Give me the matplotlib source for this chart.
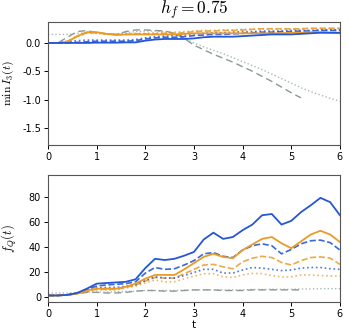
import numpy as np
import matplotlib
matplotlib.use("Agg")
import matplotlib.pyplot as plt

plt.rcParams['mathtext.fontset'] = 'cm'
plt.rcParams['font.size'] = 7
plt.rcParams['axes.unicode_minus'] = False

# time grid
t = np.round(np.arange(0, 6.01, 0.2), 1)
t_short = t[:27]  # gray dashed run stops early

# --- top panel: min I_3(t)
i3_blue_solid = [0, 0, 0, 0, 0, 0.005, 0.005, 0.005, 0.01, 0.01, 0.04, 0.06, 0.07, 0.07, 0.07, 0.08,
                 0.10, 0.11, 0.11, 0.11, 0.12, 0.13, 0.14, 0.15, 0.15, 0.15, 0.16, 0.17, 0.18, 0.18, 0.18]
i3_blue_dashed = [0, 0, 0.005, 0.01, 0.02, 0.03, 0.03, 0.03, 0.03, 0.04, 0.07, 0.09, 0.10, 0.10, 0.11, 0.13,
                  0.14, 0.15, 0.15, 0.16, 0.17, 0.18, 0.19, 0.19, 0.20, 0.20, 0.21, 0.21, 0.22, 0.22, 0.22]
i3_blue_dotted = [0, 0, 0.02, 0.04, 0.05, 0.05, 0.05, 0.05, 0.05, 0.06, 0.09, 0.11, 0.12, 0.13, 0.14, 0.16,
                  0.17, 0.18, 0.18, 0.19, 0.20, 0.20, 0.21, 0.21, 0.21, 0.22, 0.22, 0.22, 0.23, 0.23, 0.23]
i3_orange_solid = [0, 0, 0.02, 0.12, 0.19, 0.19, 0.16, 0.14, 0.15, 0.15, 0.15, 0.15, 0.15, 0.15, 0.16, 0.17,
                   0.17, 0.17, 0.17, 0.17, 0.17, 0.17, 0.17, 0.17, 0.17, 0.18, 0.18, 0.19, 0.19, 0.18, 0.17]
i3_orange_dashed = [0, 0, 0.03, 0.12, 0.18, 0.18, 0.16, 0.15, 0.15, 0.16, 0.16, 0.16, 0.17, 0.17, 0.18, 0.20,
                    0.21, 0.21, 0.22, 0.22, 0.23, 0.24, 0.25, 0.25, 0.25, 0.25, 0.25, 0.26, 0.26, 0.26, 0.26]
i3_orange_dotted = [0, 0, 0.03, 0.11, 0.17, 0.17, 0.16, 0.15, 0.16, 0.17, 0.17, 0.18, 0.18, 0.19, 0.20, 0.21,
                    0.22, 0.22, 0.23, 0.23, 0.24, 0.24, 0.25, 0.24, 0.24, 0.24, 0.24, 0.25, 0.25, 0.25, 0.25]
i3_gray_dashed = [0, 0, 0.10, 0.20, 0.22, 0.18, 0.16, 0.15, 0.20, 0.23, 0.23, 0.22, 0.21, 0.17, 0.08, -0.04,
                  -0.12, -0.20, -0.27, -0.34, -0.42, -0.50, -0.59, -0.68, -0.78, -0.88, -0.97]
i3_gray_dotted = [0.15, 0.15, 0.15, 0.17, 0.18, 0.17, 0.16, 0.16, 0.18, 0.20, 0.21, 0.21, 0.20, 0.17, 0.08, 0.0,
                  -0.07, -0.13, -0.19, -0.26, -0.33, -0.40, -0.47, -0.55, -0.63, -0.71, -0.79, -0.86, -0.92, -0.98, -1.03]

# --- bottom panel: f_Q(t)
fq_blue_solid = [1, 1, 1.5, 3, 6.5, 10.5, 11, 11.5, 12, 14, 23, 30.5, 29.5, 30.5, 33, 36,
                 46, 51.5, 46.5, 48, 53.5, 58, 65.5, 66.5, 58, 61, 68, 73.5, 79.5, 76, 65.5]
fq_blue_dashed = [1, 1, 1.5, 3, 6, 8.5, 9.5, 10, 10.5, 12, 19, 23.5, 22, 22.5, 25.5, 29,
                  34.5, 35.5, 32.5, 31.5, 37.5, 41, 42.5, 41, 34.5, 38, 42.5, 45, 45.5, 43.5, 37.5]
fq_blue_dotted = [1, 1, 1.5, 2.5, 5, 7, 7.5, 7.5, 8.5, 9.5, 13, 16, 15, 15, 17, 19.5,
                  22, 22, 19, 19, 21.5, 23.5, 23, 22, 21, 21.5, 23, 23.5, 23.5, 22.5, 22]
fq_orange_solid = [1, 1, 1.5, 2.5, 5, 6.5, 6.5, 6.5, 8, 10.5, 14.5, 17.5, 17.5, 17.5, 22, 27,
                   32, 34.5, 32, 31, 37.5, 42, 46.5, 48, 43, 39, 44.5, 50, 53, 50, 44]
fq_orange_dashed = [1, 1, 1.5, 2.5, 4.5, 6, 6, 6, 7.5, 9.5, 12.5, 15.5, 15, 15, 18.5, 22,
                    25.5, 26, 24, 22.5, 28, 31, 32.5, 31.5, 27.5, 25.5, 29, 31.5, 32, 31, 26]
fq_orange_dotted = [1, 1, 1.5, 2.5, 4, 5.5, 5.5, 5.5, 7, 8.5, 11, 13.5, 12, 12, 14.5, 16.5,
                    18.5, 18.5, 16, 15.5, 17.5, 18.8, 18.5, 17, 15.8, 16, 17.5, 17.5, 17, 16.7, 16.5]
fq_gray_dashed = [1, 1, 1.5, 2.5, 3.5, 3.5, 3, 3, 3.5, 4.5, 5, 5, 4.5, 4.5, 5, 5.5,
                  5.5, 5.5, 5, 5, 5, 5.5, 5.5, 5.5, 5.5, 5.5, 5.5]
fq_gray_dotted = [3, 3, 3, 3.2, 3.5, 3.8, 3.8, 4, 4.2, 4.5, 5, 5, 5, 5, 5.2, 5.5,
                  5.5, 5.5, 5.5, 5.5, 5.5, 5.8, 5.8, 6, 6, 6, 6.2, 6.3, 6.5, 6.5, 6.5]

blue = '#2456d6'
orange = '#eb9a25'
gray = '#8a9898'
lgray = '#a9b8b8'

fig = plt.figure(figsize=(3.49, 3.33), dpi=100)
ax1 = fig.add_axes([0.1375, 0.565, 0.8365, 0.369])
ax2 = fig.add_axes([0.1375, 0.094, 0.8365, 0.381])


def draw(ax, bs, bd, bo, os_, od, oo, gd, go):
    ax.plot(t, go, color=lgray, ls=':', lw=1.0)
    ax.plot(t_short, gd, color=gray, ls=(0, (5, 3)), lw=1.0)
    ax.plot(t, oo, color=orange, ls=':', lw=1.2, alpha=0.7)
    ax.plot(t, od, color=orange, ls='--', lw=1.2, alpha=0.85)
    ax.plot(t, bo, color=blue, ls=':', lw=1.2, alpha=0.8)
    ax.plot(t, bd, color=blue, ls='--', lw=1.2, alpha=0.9)
    ax.plot(t, os_, color=orange, lw=1.3)
    ax.plot(t, bs, color=blue, lw=1.3)


draw(ax1, i3_blue_solid, i3_blue_dashed, i3_blue_dotted, i3_orange_solid,
     i3_orange_dashed, i3_orange_dotted, i3_gray_dashed, i3_gray_dotted)
draw(ax2, fq_blue_solid, fq_blue_dashed, fq_blue_dotted, fq_orange_solid,
     fq_orange_dashed, fq_orange_dotted, fq_gray_dashed, fq_gray_dotted)

ax1.set_xlim(0, 6)
ax1.set_ylim(-1.8, 0.37)
ax1.set_yticks([0.0, -0.5, -1.0, -1.5])
ax1.set_ylabel(r'$\min\, I_3(t)$', fontsize=8.5)
ax1.yaxis.set_label_coords(-0.108, 0.5)
ax1.set_title(r'$h_f = 0.75$', fontsize=12.5, pad=3)

ax2.set_xlim(0, 6)
ax2.set_ylim(-4, 98)
ax2.set_yticks([0, 20, 40, 60, 80])
ax2.set_ylabel(r'$f_Q(t)$', fontsize=9)
ax2.yaxis.set_label_coords(-0.10, 0.5)
ax2.set_xlabel('t', fontsize=7.5, labelpad=1)

for ax in (ax1, ax2):
    ax.set_xticks(range(7))
    ax.tick_params(length=3, width=0.7, pad=2, labelsize=7)
    for s in ax.spines.values():
        s.set_color('#555555')
        s.set_linewidth(0.8)

fig.savefig('out.png', dpi=100)
